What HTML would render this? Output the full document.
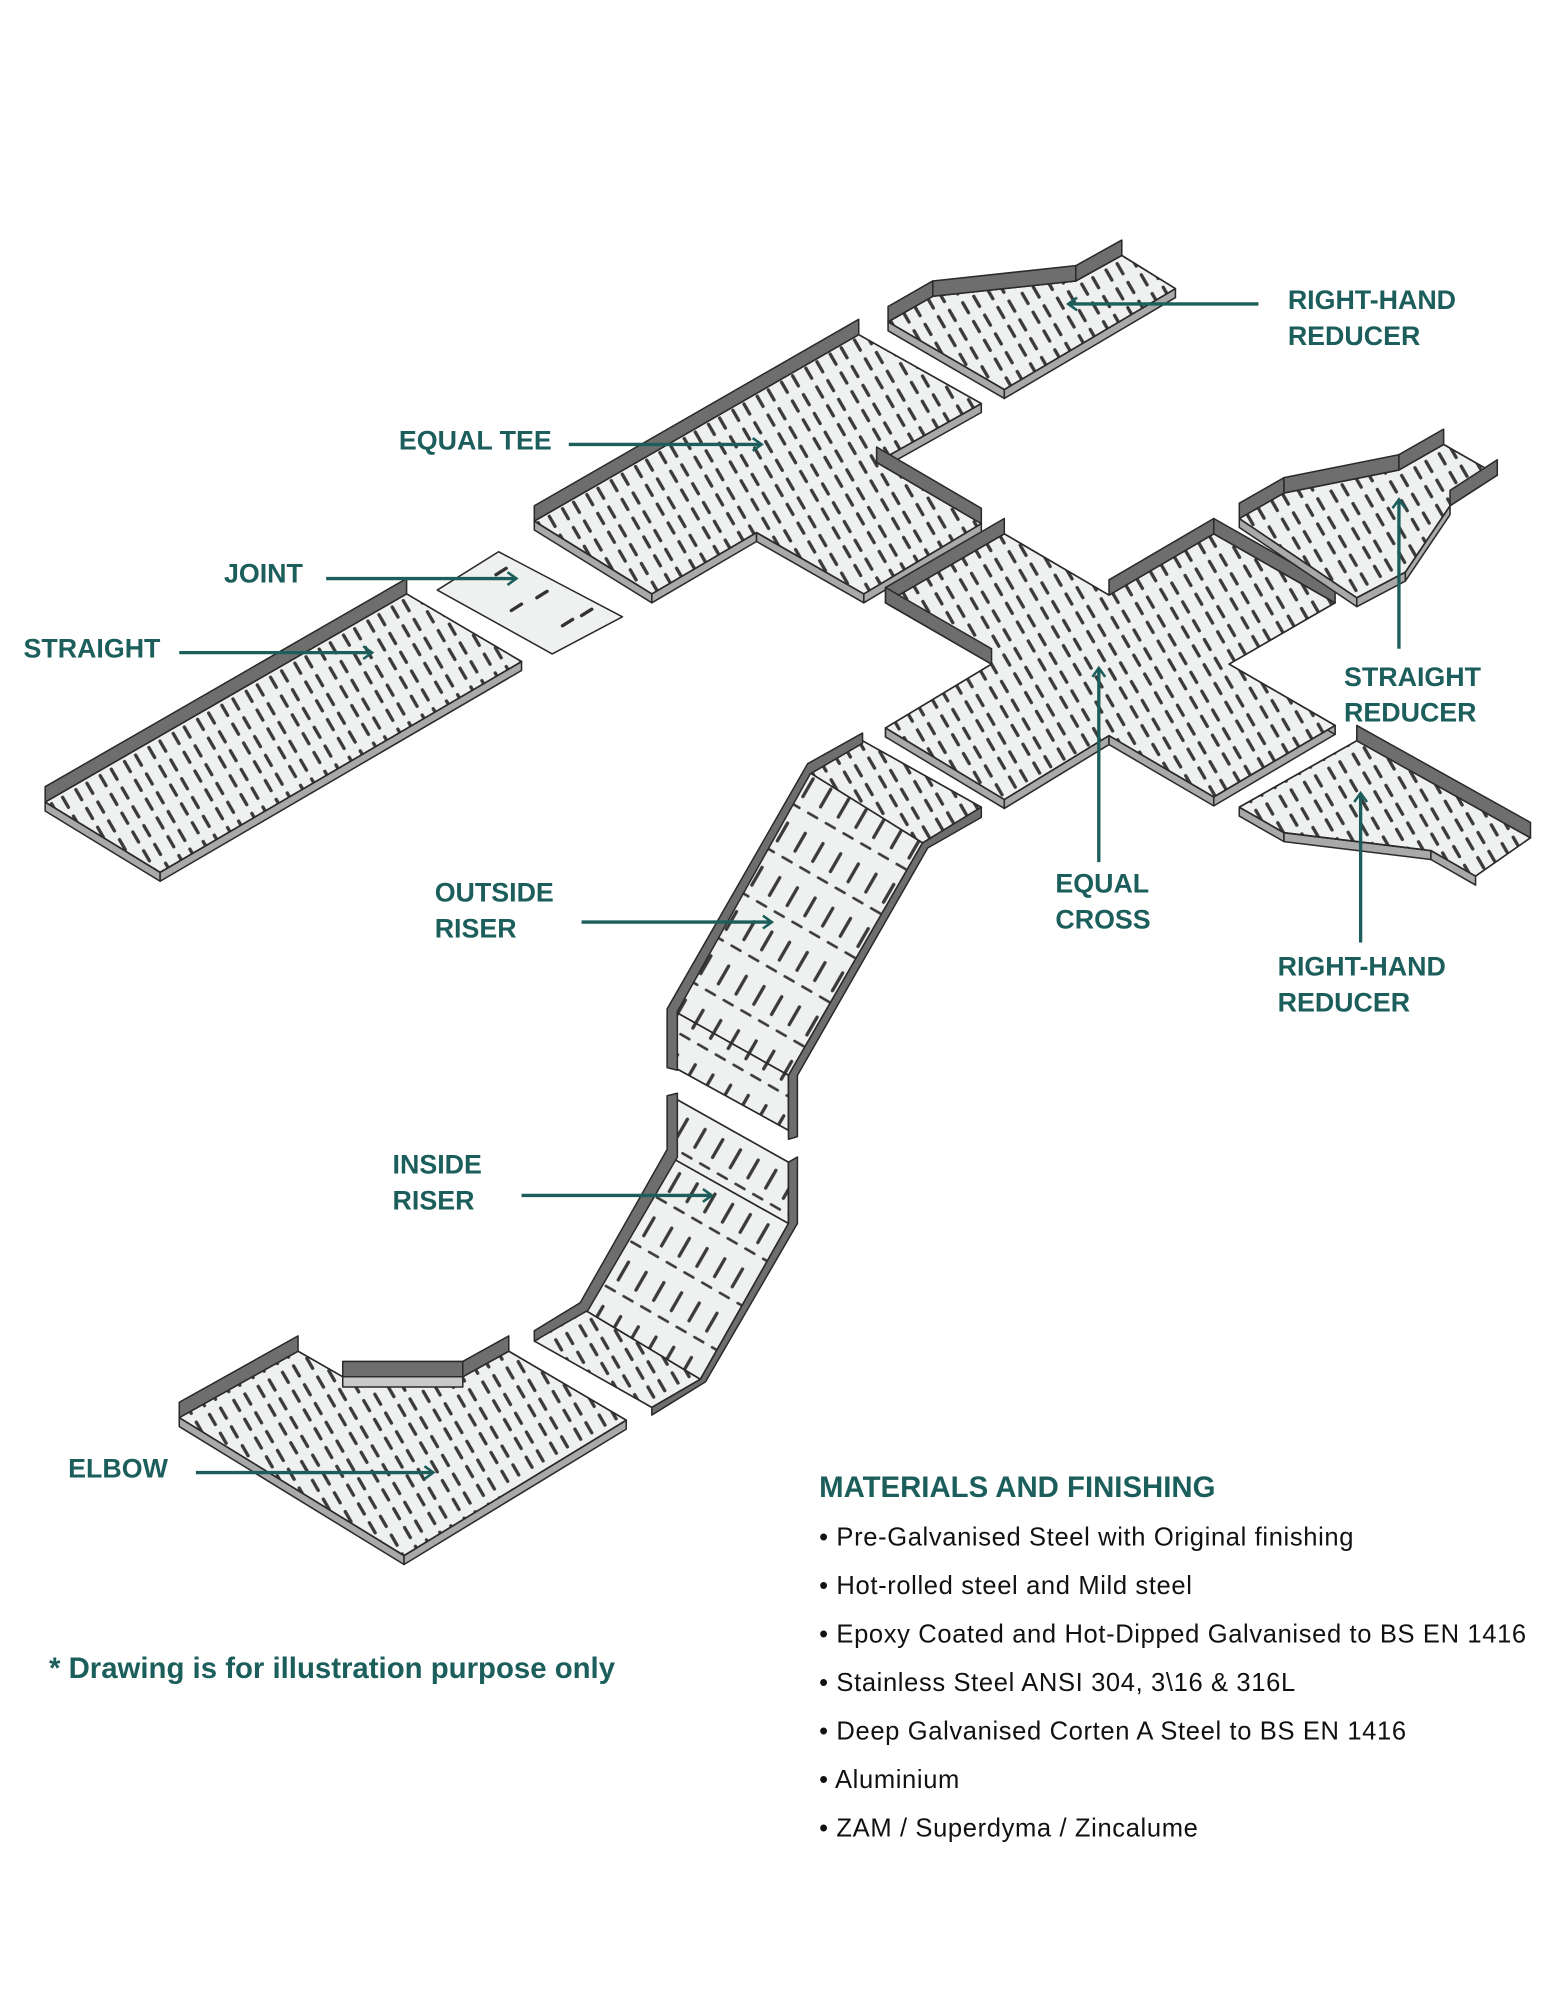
<!DOCTYPE html>
<html><head><meta charset="utf-8"><style>
html,body{margin:0;padding:0;background:#fff;}
svg{display:block;}
.lbl{font-family:"Liberation Sans",sans-serif;font-weight:bold;font-size:21px;fill:#1b5e5b;}
.txt{font-family:"Liberation Sans",sans-serif;font-size:20px;fill:#111;letter-spacing:0.5px;}
</style></head><body>
<svg id="s" width="1545" height="2000" viewBox="0 0 1209 1566" xmlns="http://www.w3.org/2000/svg">
<defs>
<pattern id="p1" width="22" height="17" patternUnits="userSpaceOnUse" patternTransform="rotate(-30)">
<line x1="6" y1="4" x2="6" y2="13" stroke="#3a3a3a" stroke-width="2.6" stroke-linecap="round"/>
<line x1="16" y1="4" x2="16" y2="13" stroke="#3a3a3a" stroke-width="2.6" stroke-linecap="round"/>
</pattern>
<pattern id="p3" width="16" height="40" patternUnits="userSpaceOnUse" patternTransform="rotate(30)">
<line x1="8" y1="10" x2="8" y2="26" stroke="#3a3a3a" stroke-width="2.6" stroke-linecap="round"/>
<line x1="2" y1="35" x2="10" y2="35" stroke="#3a3a3a" stroke-width="2" stroke-linecap="round"/>
</pattern>
<marker id="ah" markerWidth="12" markerHeight="12" refX="9" refY="6" orient="auto" markerUnits="userSpaceOnUse">
<polyline points="2,1 9,6 2,11" fill="none" stroke="#1b5e5b" stroke-width="2"/>
</marker>
</defs>
<g id="g"></g>
<g stroke="#1b5e5b" stroke-width="2.6" fill="none">
<line x1="985" y1="238" x2="836" y2="238" marker-end="url(#ah)"/>
<line x1="445" y1="348" x2="596" y2="348" marker-end="url(#ah)"/>
<line x1="255" y1="453" x2="404" y2="453" marker-end="url(#ah)"/>
<line x1="140" y1="511" x2="291" y2="511" marker-end="url(#ah)"/>
<line x1="1095" y1="508" x2="1095" y2="391" marker-end="url(#ah)"/>
<line x1="860" y1="675" x2="860" y2="523" marker-end="url(#ah)"/>
<line x1="1065" y1="738" x2="1065" y2="621" marker-end="url(#ah)"/>
<line x1="455" y1="722" x2="604" y2="722" marker-end="url(#ah)"/>
<line x1="408" y1="936" x2="557" y2="936" marker-end="url(#ah)"/>
<line x1="153" y1="1153" x2="339" y2="1153" marker-end="url(#ah)"/>
</g>
<text class="lbl" x="1008" y="242">RIGHT-HAND</text>
<text class="lbl" x="1008" y="270">REDUCER</text>
<text class="lbl" x="312" y="352">EQUAL TEE</text>
<text class="lbl" x="175" y="456">JOINT</text>
<text class="lbl" x="18" y="515">STRAIGHT</text>
<text class="lbl" x="1052" y="537">STRAIGHT</text>
<text class="lbl" x="1052" y="565">REDUCER</text>
<text class="lbl" x="826" y="699">EQUAL</text>
<text class="lbl" x="826" y="727">CROSS</text>
<text class="lbl" x="1000" y="764">RIGHT-HAND</text>
<text class="lbl" x="1000" y="792">REDUCER</text>
<text class="lbl" x="340" y="706">OUTSIDE</text>
<text class="lbl" x="340" y="734">RISER</text>
<text class="lbl" x="307" y="919">INSIDE</text>
<text class="lbl" x="307" y="947">RISER</text>
<text class="lbl" x="53" y="1157">ELBOW</text>
<text class="lbl" x="641" y="1172" style="font-size:23px">MATERIALS AND FINISHING</text>
<text class="txt" x="641" y="1210">• Pre-Galvanised Steel with Original finishing</text>
<text class="txt" x="641" y="1248">• Hot-rolled steel and Mild steel</text>
<text class="txt" x="641" y="1286">• Epoxy Coated and Hot-Dipped Galvanised to BS EN 1416</text>
<text class="txt" x="641" y="1324">• Stainless Steel ANSI 304, 3\16 &amp; 316L</text>
<text class="txt" x="641" y="1362">• Deep Galvanised Corten A Steel to BS EN 1416</text>
<text class="txt" x="641" y="1400">• Aluminium</text>
<text class="txt" x="641" y="1438">• ZAM / Superdyma / Zincalume</text>
<text class="lbl" x="38" y="1314" style="font-size:23px">* Drawing is for illustration purpose only</text>
</svg>
<script>
var g=document.getElementById('g'),NS='http://www.w3.org/2000/svg';
function poly(pts,fill,stroke,sw){var e=document.createElementNS(NS,'polygon');e.setAttribute('points',pts.map(function(p){return p[0]+','+p[1]}).join(' '));e.setAttribute('fill',fill);e.setAttribute('stroke',stroke||'#2a2a2a');e.setAttribute('stroke-width',sw||1.2);e.setAttribute('stroke-linejoin','round');g.appendChild(e);}
function piece(pts,back,front,pat,h){h=h||10;
 front.forEach(function(i){var a=pts[i],b=pts[(i+1)%pts.length];poly([a,b,[b[0],b[1]+7],[a[0],a[1]+7]],'#a9a9a9');});
 poly(pts,'#eff1f0');
 if(pat)poly(pts,'url(#'+pat+')','#2a2a2a',1.2);
 back.forEach(function(i){var a=pts[i],b=pts[(i+1)%pts.length];poly([a,b,[b[0],b[1]-h],[a[0],a[1]-h]],'#6e6e6e');});
}
piece([[35,628],[318,465],[408,518],[125,683]],[0],[3,2],'p1',12);
piece([[342,462],[390,432],[487,483],[432,512]],[],[],null);
(function(){[[388,450],[420,468],[400,478],[440,490],[455,482]].forEach(function(p){var e=document.createElementNS(NS,'line');e.setAttribute('x1',p[0]);e.setAttribute('y1',p[1]);e.setAttribute('x2',p[0]+8);e.setAttribute('y2',p[1]-5);e.setAttribute('stroke','#333');e.setAttribute('stroke-width','2.6');e.setAttribute('stroke-linecap','round');g.appendChild(e);});})();
piece([[418,408],[672,262],[768,316],[686,362],[768,410],[676,465],[592,417],[510,465]],[0,3],[7,6,5,4,2],'p1',12);
piece([[695,252],[730,232],[842,220],[878,200],[920,226],[786,305]],[0,1,2],[5,4],'p1',12);
piece([[693,472],[786,418],[868,466],[950,418],[1045,472],[962,520],[1045,568],[950,624],[868,576],[786,626],[693,570],[776,520]],[0,2,3,11],[10,9,8,7,6,5],'p1',12);
piece([[970,406],[1005,386],[1095,368],[1130,348],[1172,372],[1135,396],[1100,448],[1062,468]],[0,1,2,4],[7,6,5],'p1',12);
piece([[970,632],[1062,580],[1198,656],[1155,686],[1120,666],[1005,652]],[1],[0,5,4,3],'p1',12);
piece([[632,604],[675,580],[768,632],[722,660]],[],[],'p1');
piece([[632,604],[722,660],[617,842],[528,792]],[],[],'p3');
piece([[528,792],[617,842],[617,885],[528,836]],[],[],'p3');
poly([[522,790],[632,598],[675,574],[675,582],[634,606],[530,792],[530,838],[522,836]],'#6e6e6e');
poly([[722,660],[768,632],[768,640],[726,664],[624,842],[624,890],[617,892],[617,842]],'#6e6e6e');
piece([[528,860],[617,910],[617,958],[528,908]],[],[],'p3');
piece([[528,908],[617,958],[548,1080],[458,1026]],[],[],'p3');
piece([[458,1026],[548,1080],[510,1102],[418,1050]],[],[],'p1');
poly([[522,858],[530,856],[530,906],[460,1026],[418,1050],[418,1042],[454,1020],[522,900]],'#6e6e6e');
poly([[617,910],[624,906],[624,958],[552,1082],[510,1108],[510,1102],[548,1080],[617,958]],'#6e6e6e');
piece([[140,1110],[233,1058],[268,1078],[362,1078],[398,1058],[490,1112],[316,1218]],[0,2,3],[6,5],'p1',12);
poly([[268,1078],[362,1078],[362,1086],[268,1086]],'#c9c9c9');
</script>
</body></html>
